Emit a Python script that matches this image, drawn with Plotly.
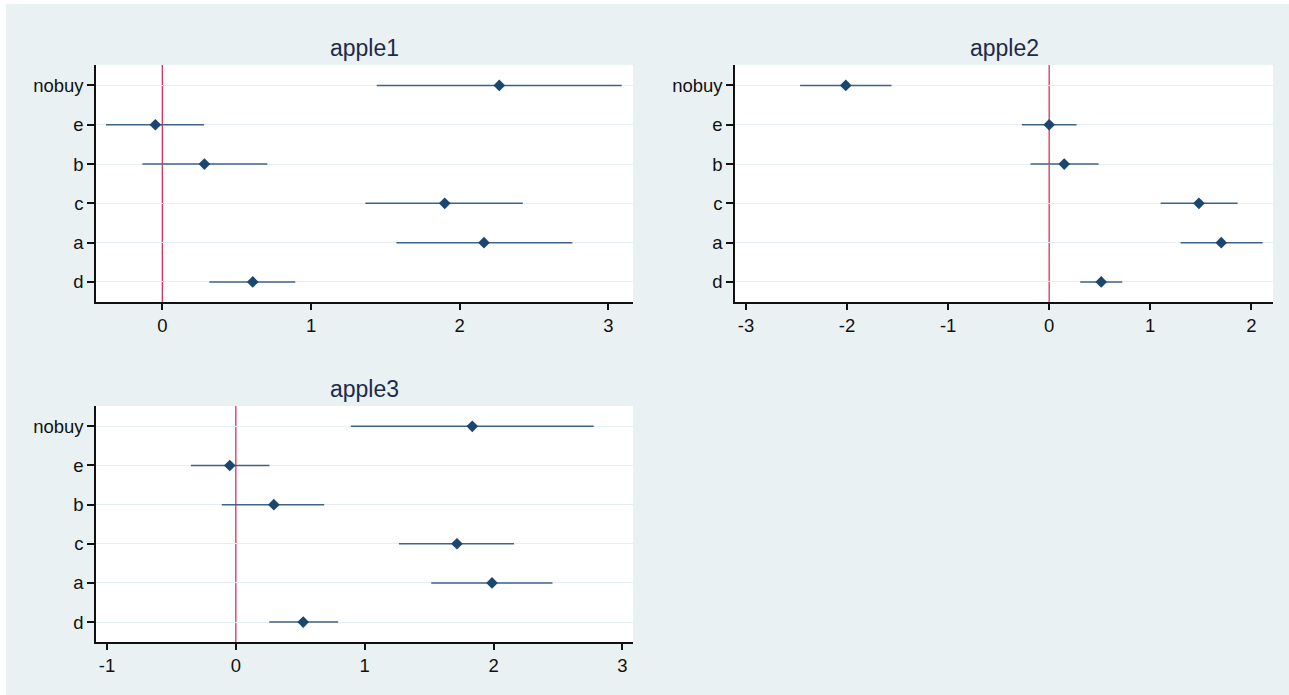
import plotly.graph_objects as go

# Coefficient estimates with 95% confidence bounds, per model
categories = ["nobuy", "e", "b", "c", "a", "d"]
cat_pos = [6, 5, 4, 3, 2, 1]

apple1_est = [2.266, -0.047, 0.283, 1.899, 2.163, 0.608]
apple1_lo = [1.442, -0.379, -0.134, 1.365, 1.574, 0.316]
apple1_hi = [3.089, 0.280, 0.706, 2.424, 2.757, 0.894]

apple2_est = [-2.013, 0.000, 0.149, 1.482, 1.703, 0.515]
apple2_lo = [-2.465, -0.270, -0.184, 1.103, 1.301, 0.307]
apple2_hi = [-1.560, 0.271, 0.489, 1.865, 2.113, 0.723]

apple3_est = [1.835, -0.047, 0.295, 1.716, 1.988, 0.523]
apple3_lo = [0.893, -0.349, -0.109, 1.266, 1.516, 0.259]
apple3_hi = [2.777, 0.261, 0.686, 2.158, 2.457, 0.794]

panels = [
    dict(name="apple1", est=apple1_est, lo=apple1_lo, hi=apple1_hi,
         ticks=[0, 1, 2, 3], xrange=[-0.446, 3.165],
         dx=[96, 633], dy=[65, 302]),
    dict(name="apple2", est=apple2_est, lo=apple2_lo, hi=apple2_hi,
         ticks=[-3, -2, -1, 0, 1, 2], xrange=[-3.109, 2.215],
         dx=[735, 1273], dy=[65, 302]),
    dict(name="apple3", est=apple3_est, lo=apple3_lo, hi=apple3_hi,
         ticks=[-1, 0, 1, 2, 3], xrange=[-1.085, 3.082],
         dx=[96, 633], dy=[406, 642]),
]

W, H = 1289, 695
BG = "#EAF1F3"
NAVY = "#1a476f"
CI_COLOR = "#3e6288"
REF_RED = "#d8315b"
AXIS_COLOR = "#111111"
FONT = "Liberation Sans, Arial, sans-serif"
TICK_SIZE = 18.5

fig = go.Figure()
layout = dict(
    width=W, height=H,
    margin=dict(l=0, r=0, t=0, b=0),
    paper_bgcolor=BG,
    plot_bgcolor="white",
    showlegend=False,
    font=dict(family=FONT, color=AXIS_COLOR),
)
shapes = [
    # white strips along the left and top page edges
    dict(type="rect", xref="paper", yref="paper", x0=0, x1=6 / W, y0=0, y1=1,
         fillcolor="white", line_width=0, layer="below"),
    dict(type="rect", xref="paper", yref="paper", x0=0, x1=1, y0=1 - 4 / H, y1=1,
         fillcolor="white", line_width=0, layer="below"),
]
annotations = []

for i, p in enumerate(panels, start=1):
    xa = "x" if i == 1 else f"x{i}"
    ya = "y" if i == 1 else f"y{i}"
    plus = [h - e for h, e in zip(p["hi"], p["est"])]
    minus = [e - l for e, l in zip(p["est"], p["lo"])]
    fig.add_trace(go.Scatter(
        x=p["est"], y=cat_pos, xaxis=xa, yaxis=ya, mode="markers",
        marker=dict(symbol="diamond", size=9, color=NAVY),
        error_x=dict(type="data", array=plus, arrayminus=minus,
                     color=CI_COLOR, thickness=1.5, width=0),
        hoverinfo="x+y",
    ))
    x0, x1 = p["dx"]
    y0, y1 = p["dy"]
    layout["xaxis" if i == 1 else f"xaxis{i}"] = dict(
        domain=[x0 / W, x1 / W], anchor=ya, range=p["xrange"],
        tickvals=p["ticks"], ticktext=[str(t) for t in p["ticks"]],
        showgrid=False, zeroline=False,
        showline=True, linecolor=AXIS_COLOR, linewidth=1.5,
        ticks="outside", ticklen=6, tickwidth=1.5, tickcolor=AXIS_COLOR,
        tickfont=dict(size=TICK_SIZE, family=FONT, color=AXIS_COLOR),
    )
    layout["yaxis" if i == 1 else f"yaxis{i}"] = dict(
        domain=[1 - y1 / H, 1 - y0 / H], anchor=xa, range=[0.49, 6.52],
        tickvals=cat_pos, ticktext=categories,
        showgrid=True, gridcolor="#E6EFF2", gridwidth=1.2, zeroline=False,
        showline=True, linecolor=AXIS_COLOR, linewidth=1.5,
        ticks="outside", ticklen=7, tickwidth=1.5, tickcolor=AXIS_COLOR,
        tickfont=dict(size=TICK_SIZE, family=FONT, color=AXIS_COLOR),
    )
    shapes.append(dict(type="line", xref=xa, yref=f"{ya} domain",
                       x0=0, x1=0, y0=0, y1=1,
                       line=dict(color=REF_RED, width=1.3), layer="below"))
    annotations.append(dict(text=p["name"], xref="paper", yref="paper",
                            x=(x0 + x1) / 2 / W, y=1 - (y0 - 17) / H,
                            xanchor="center", yanchor="middle", showarrow=False,
                            font=dict(size=23, family=FONT, color="#1c2b4a")))

layout["shapes"] = shapes
layout["annotations"] = annotations
fig.update_layout(**layout)
fig.write_html("out.html")
